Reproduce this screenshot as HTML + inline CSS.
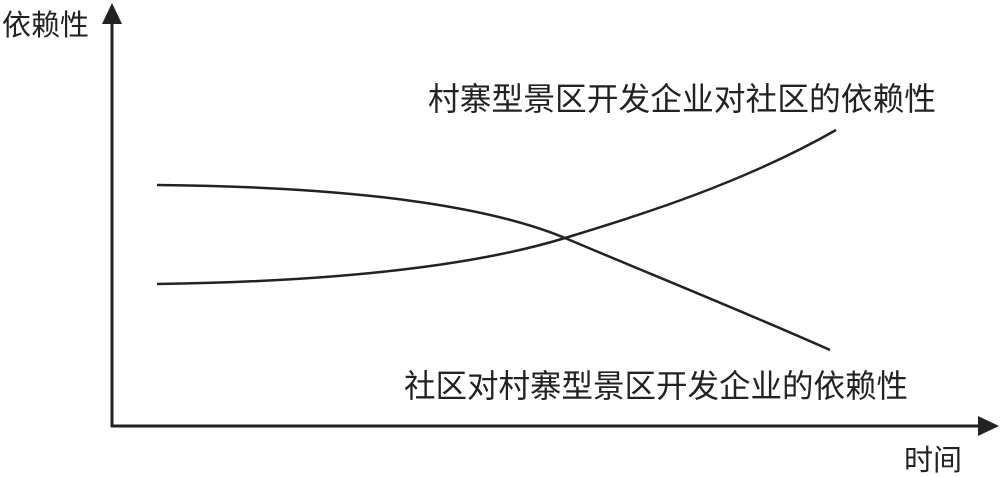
<!DOCTYPE html>
<html><head><meta charset="utf-8"><style>
html,body{margin:0;padding:0;background:#fff;}
svg{display:block}
text{font-family:"Liberation Sans","Noto Sans CJK SC",sans-serif;fill:#222;}
</style></head><body>
<svg width="1000" height="477" viewBox="0 0 1000 477">
<line x1="112" y1="427" x2="112" y2="20" stroke="#222" stroke-width="3"/>
<polygon points="112,3 102,24 122,24" fill="#222"/>
<line x1="111" y1="426" x2="982" y2="426" stroke="#222" stroke-width="3"/>
<polygon points="999,426 978,416 978,436" fill="#222"/>
<path d="M157,185 C380,187 500,211 565,238 C650,274 740,310 830,350" fill="none" stroke="#222" stroke-width="2.5"/>
<path d="M157,284 C380,281 500,258 565,238 C630,218 740,185 836,130" fill="none" stroke="#222" stroke-width="2.5"/>
<text x="2" y="35" font-size="29">依赖性</text>
<text x="904" y="470" font-size="29">时间</text>
<text x="428" y="110" font-size="32" textLength="508" lengthAdjust="spacingAndGlyphs">村寨型景区开发企业对社区的依赖性</text>
<text x="404" y="397" font-size="32" textLength="504" lengthAdjust="spacingAndGlyphs">社区对村寨型景区开发企业的依赖性</text>
</svg>
</body></html>
